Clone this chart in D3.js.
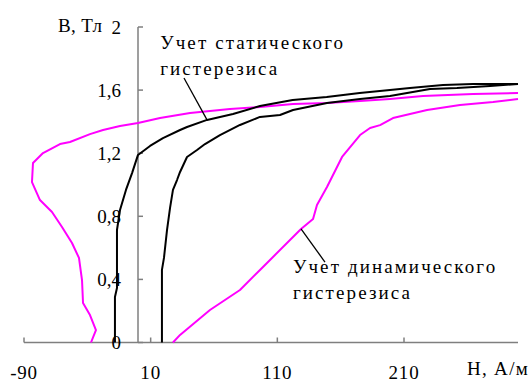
<!DOCTYPE html>
<html>
<head>
<meta charset="utf-8">
<script src="https://cdn.jsdelivr.net/npm/d3@7"></script>
<style>
  html, body { margin: 0; padding: 0; background: #fff; }
  svg { display: block; }
</style>
</head>
<body>
<svg id="chart" width="529" height="381"></svg>
<script>
// Magnetization curves B(H): static vs. dynamic hysteresis accounting
const xTicks = [-90, 10, 110, 210];
const yTicks = [0, 0.4, 0.8, 1.2, 1.6, 2];
const yTickLabels = ["0", "0,4", "0,8", "1,2", "1,6", "2"];
const xTitle = "H, А/м";
const yTitle = "В, Тл";

// Static hysteresis: ascending branch (left) and second branch (right), [H, B]
const staticLeft = [
  [-18.2, 0], [-18.2, 0.143], [-18.2, 0.289], [-16.6, 0.346], [-16.6, 0.536],
  [-16.6, 0.713], [-14.2, 0.84], [-9.5, 0.967], [-4.7, 1.074], [0, 1.189],
  [9.5, 1.246], [19.7, 1.296], [33.2, 1.347], [38.7, 1.366], [54.5, 1.411],
  [75.0, 1.448], [96.3, 1.499], [122.1, 1.537], [149.0, 1.556], [175.0, 1.582],
  [198.9, 1.601], [214.7, 1.613], [240.8, 1.632], [264.5, 1.639], [300, 1.639]
];
const staticRight = [
  [18.9, 0], [18.9, 0.27], [18.9, 0.46], [20.5, 0.536], [22.9, 0.713],
  [25.3, 0.853], [27.6, 0.967], [30.8, 1.03], [33.2, 1.081], [38.7, 1.176],
  [46.6, 1.22], [52.9, 1.258], [64.7, 1.315], [80.5, 1.379], [96.3, 1.43],
  [112.1, 1.442], [122.4, 1.474], [149.2, 1.518], [175.3, 1.544], [198.9, 1.563],
  [230.5, 1.607], [251.8, 1.613], [277.9, 1.626], [300, 1.639]
];

// Dynamic hysteresis: left/upper branch and lower right branch, [H, B]
const dynamicUpper = [
  [-37.1, 0], [-33.2, 0.079], [-37.9, 0.174], [-43.4, 0.25], [-44.2, 0.396],
  [-46.6, 0.536], [-52.1, 0.631], [-60.0, 0.732], [-67.9, 0.827], [-77.4, 0.903],
  [-83.7, 1.017], [-82.9, 1.138], [-75.0, 1.201], [-61.6, 1.258], [-53.7, 1.271],
  [-37.9, 1.321], [-27.6, 1.347], [-14.2, 1.372], [0, 1.391], [17.4, 1.423],
  [41.1, 1.455], [72.6, 1.48], [96.3, 1.493], [122.4, 1.512], [149.2, 1.518],
  [175.3, 1.531], [198.9, 1.544], [225.0, 1.563], [264.5, 1.575], [300, 1.582]
];
const dynamicLower = [
  [27.6, 0], [33.2, 0.048], [56.8, 0.206], [80.5, 0.333], [96.3, 0.46],
  [105.8, 0.536], [128.7, 0.72], [138.2, 0.783], [141.3, 0.872], [149.2, 0.986],
  [161.1, 1.176], [175.3, 1.315], [183.2, 1.36], [191.1, 1.378], [201.3, 1.423],
  [228.2, 1.474], [254.2, 1.506], [280.3, 1.525], [300, 1.544]
];

// Callouts: text lines, text anchor point and leader line [from, to] in data units
const staticNote = { lines: ["Учет статического", "гистерезиса"], at: [17.5, 1.86], leader: [[36.3, 1.677], [54.5, 1.411]] };
const dynamicNote = { lines: ["Учет динамического", "гистерезиса"], at: [122.3, 0.44], leader: [[147.6, 0.51], [128.7, 0.72]] };

const FONT = "'Liberation Serif', 'Times New Roman', 'DejaVu Serif', serif";
const svg = d3.select("#chart")
  .attr("font-family", FONT).attr("font-size", 19);
const x = d3.scaleLinear().domain([-90, 300]).range([24, 518]);
const y = d3.scaleLinear().domain([0, 2]).range([342.5, 27]);
const axisColor = "#7f7f7f";

// X axis (ticks pointing up, labels below)
const xAxis = svg.append("g").attr("transform", `translate(0,${y(0)})`);
xAxis.append("line").attr("x1", x(-90)).attr("x2", x(300)).attr("stroke", axisColor).attr("stroke-width", 1.5);
xAxis.selectAll("line.tick").data(xTicks).join("line").attr("class", "tick")
  .attr("x1", d => x(d)).attr("x2", d => x(d)).attr("y1", 0).attr("y2", -5)
  .attr("stroke", axisColor).attr("stroke-width", 1.5);
xAxis.selectAll("text").data(xTicks).join("text")
  .attr("x", d => x(d)).attr("y", 36).attr("text-anchor", "middle")
  .attr("letter-spacing", 0.8).text(d => d);

// Y axis at H = 0 (ticks pointing right, labels left)
const yAxis = svg.append("g").attr("transform", `translate(${x(0)},0)`);
yAxis.append("line").attr("y1", y(0)).attr("y2", y(2)).attr("stroke", axisColor).attr("stroke-width", 1.5);
yAxis.selectAll("line.tick").data(yTicks).join("line").attr("class", "tick")
  .attr("y1", d => y(d)).attr("y2", d => y(d)).attr("x1", 0).attr("x2", 5)
  .attr("stroke", axisColor).attr("stroke-width", 1.5);
yAxis.selectAll("text").data(yTicks).join("text")
  .attr("x", -17).attr("y", d => y(d)).attr("dy", "0.35em").attr("text-anchor", "end")
  .text((d, i) => yTickLabels[i]);

// Axis titles
svg.append("text").attr("x", 58).attr("y", 32).attr("letter-spacing", 0.4).text(yTitle);
svg.append("text").attr("x", 467).attr("y", 375).attr("letter-spacing", 1.3).text(xTitle);

// Curves
const line = d3.line().x(d => x(d[0])).y(d => y(d[1]));
const series = [
  { data: dynamicUpper, color: "#ff00ff" },
  { data: dynamicLower, color: "#ff00ff" },
  { data: staticRight, color: "#000" },
  { data: staticLeft, color: "#000" }
];
svg.selectAll("path.curve").data(series).join("path").attr("class", "curve")
  .attr("d", d => line(d.data)).attr("fill", "none")
  .attr("stroke", d => d.color).attr("stroke-width", 2).attr("stroke-linejoin", "round");

// Callouts
[staticNote, dynamicNote].forEach(n => {
  svg.append("line")
    .attr("x1", x(n.leader[0][0])).attr("y1", y(n.leader[0][1]))
    .attr("x2", x(n.leader[1][0])).attr("y2", y(n.leader[1][1]))
    .attr("stroke", "#000").attr("stroke-width", 1.3);
  const t = svg.append("text").attr("x", x(n.at[0])).attr("y", y(n.at[1]))
    .attr("letter-spacing", 2.1);
  n.lines.forEach((s, i) => t.append("tspan").attr("x", x(n.at[0])).attr("dy", i ? 26 : 0).text(s));
});
</script>
</body>
</html>
